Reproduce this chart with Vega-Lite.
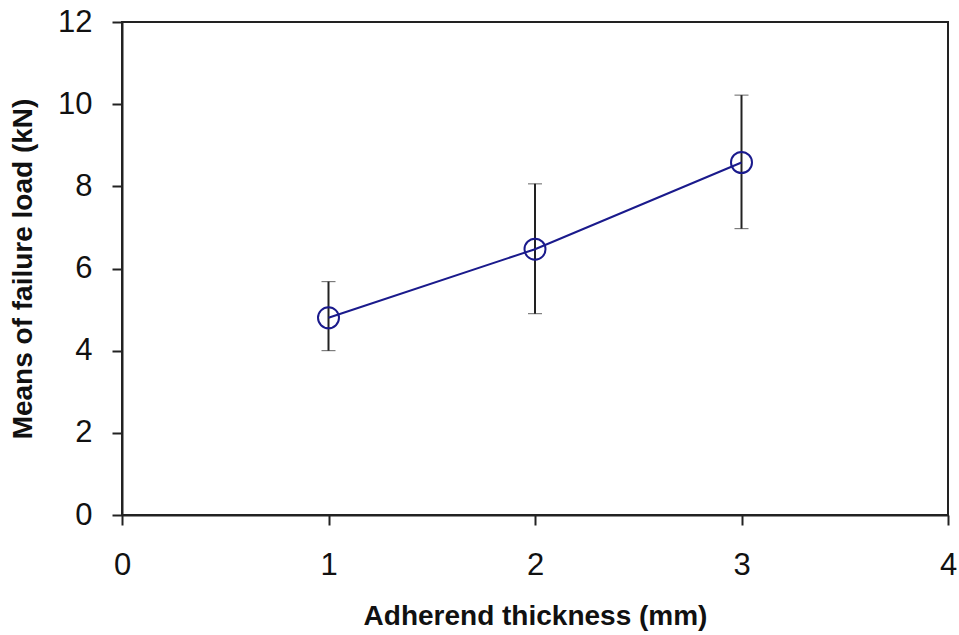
{
  "$schema": "https://vega.github.io/schema/vega-lite/v6.json",
  "width": 826,
  "height": 493,
  "autosize": {"type": "none"},
  "padding": {"left": 122, "top": 22, "right": 11, "bottom": 120},
  "background": "white",
  "config": {
    "view": {"stroke": "#222222", "strokeWidth": 2},
    "axis": {
      "grid": false,
      "domainColor": "#222222",
      "domainWidth": 2,
      "tickColor": "#222222",
      "tickWidth": 2,
      "tickSize": 10,
      "labelFont": "Liberation Sans",
      "labelFontSize": 31,
      "labelColor": "#111111",
      "titleFont": "Liberation Sans",
      "titleFontSize": 28,
      "titleFontWeight": "bold",
      "titleColor": "#111111"
    }
  },
  "data": {
    "values": [
      {"thickness": 1, "load": 4.8, "lo": 4.0, "hi": 5.68},
      {"thickness": 2, "load": 6.47, "lo": 4.9, "hi": 8.06},
      {"thickness": 3, "load": 8.58, "lo": 6.97, "hi": 10.22}
    ]
  },
  "layer": [
    {
      "mark": {"type": "errorbar", "ticks": {"size": 14, "color": "#222222", "strokeWidth": 2}, "rule": {"color": "#222222", "strokeWidth": 2}},
      "encoding": {
        "x": {"field": "thickness", "type": "quantitative", "title": "Adherend thickness (mm)"},
        "y": {"field": "lo", "type": "quantitative", "title": "Means of failure load (kN)"},
        "y2": {"field": "hi"}
      }
    },
    {
      "mark": {"type": "line", "color": "#1a1a8c", "strokeWidth": 2},
      "encoding": {
        "x": {"field": "thickness", "type": "quantitative", "title": "Adherend thickness (mm)"},
        "y": {"field": "load", "type": "quantitative", "title": "Means of failure load (kN)"}
      }
    },
    {
      "mark": {"type": "point", "shape": "circle", "filled": false, "stroke": "#1a1a8c", "strokeWidth": 2, "size": 441, "opacity": 1},
      "encoding": {
        "x": {
          "field": "thickness",
          "type": "quantitative",
          "title": "Adherend thickness (mm)",
          "scale": {"domain": [0, 4], "nice": false},
          "axis": {"values": [0, 1, 2, 3, 4], "format": "d", "title": "Adherend thickness (mm)", "labelPadding": 25, "titlePadding": 22, "labelFlush": false}
        },
        "y": {
          "field": "load",
          "type": "quantitative",
          "title": "Means of failure load (kN)",
          "scale": {"domain": [0, 12], "nice": false},
          "axis": {"values": [0, 2, 4, 6, 8, 10, 12], "format": "d", "title": "Means of failure load (kN)", "labelPadding": 20, "titlePadding": 20, "labelFlush": false}
        }
      }
    }
  ]
}
